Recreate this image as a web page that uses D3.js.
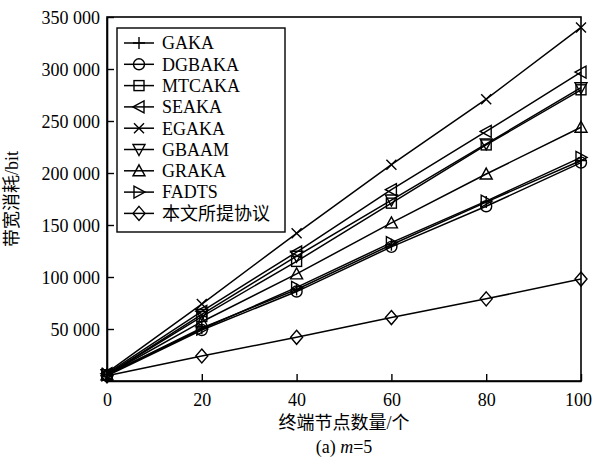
<!DOCTYPE html>
<html>
<head>
<meta charset="utf-8">
<script src="https://cdn.jsdelivr.net/npm/d3@7"></script>
<style>
  body { margin: 0; background: #fff; }
  svg text { font-family: "Liberation Serif", "Noto Sans CJK SC", serif; fill: #000; }
</style>
</head>
<body>
<div class="chart"></div>
<script>
// data
var nodes = [0, 20, 40, 60, 80, 100];
var yTicks = [50000, 100000, 150000, 200000, 250000, 300000, 350000];

var gaka   = [6000, 51000, 88000, 131000, 172000, 212000];
var dgbaka = [5000, 49000, 86000, 129000, 168000, 210000];
var mtcaka = [6000, 62000, 115000, 171000, 227000, 280000];
var seaka  = [7000, 67000, 124000, 184000, 240000, 297000];
var egaka  = [8000, 74000, 142000, 208000, 271000, 340000];
var gbaam  = [6000, 64000, 120000, 174000, 228000, 282000];
var graka  = [6000, 57000, 103000, 152000, 199000, 244000];
var fadts  = [6000, 50000, 90000, 133000, 173000, 215000];
var ours   = [5000, 24000, 42000, 61000, 79000, 98000];

var seriesNames = ["GAKA", "DGBAKA", "MTCAKA", "SEAKA", "EGAKA", "GBAAM", "GRAKA", "FADTS", "本文所提协议"];
var seriesValues = [gaka, dgbaka, mtcaka, seaka, egaka, gbaam, graka, fadts, ours];
var seriesMarkers = ["plus", "circle", "square", "triL", "cross", "triD", "triU", "triR", "diamond"];

var svgWidth = 592;
var svgHeight = 464;
var margin = { top: 17, right: 11, bottom: 83, left: 107 };
var width = svgWidth - margin.left - margin.right;
var height = svgHeight - margin.top - margin.bottom;

var svg = d3.select(".chart")
  .append("svg")
  .attr("width", svgWidth)
  .attr("height", svgHeight);

var chart = svg.append("g")
  .attr("transform", "translate(" + margin.left + "," + margin.top + ")");

var x = d3.scaleLinear().domain([0, 100]).range([0, width]);
var y = d3.scaleLinear().domain([0, 350000]).range([height, 0]);

// frame
chart.append("rect")
  .attr("width", width).attr("height", height)
  .attr("fill", "none").attr("stroke", "#000").attr("stroke-width", 1.6);

// axes, ticks pointing inward
var fmt = function(d) { return d3.format(",")(d).replace(/,/g, " "); };

var bottomAxis = chart.append("g")
  .attr("transform", "translate(0," + height + ")")
  .call(d3.axisBottom(x).tickValues(nodes).tickSizeInner(-7).tickSizeOuter(0).tickPadding(12));

var leftAxis = chart.append("g")
  .call(d3.axisLeft(y).tickValues(yTicks).tickSizeInner(-7).tickSizeOuter(0).tickPadding(7).tickFormat(fmt));

[bottomAxis, leftAxis].forEach(function(a) {
  a.select(".domain").attr("stroke", "#000").attr("stroke-width", 1.6);
  a.selectAll(".tick line").attr("stroke", "#000").attr("stroke-width", 1.4);
  a.selectAll(".tick text").style("font-size", "18px").attr("font-family", null);
});
leftAxis.selectAll(".tick text").attr("dy", "0.35em");
// last x label sits at the page edge, nudge it in a little
bottomAxis.selectAll(".tick text").filter(function(d) { return d == 100; }).attr("dx", -3);

// lines
var line = d3.line()
  .x(function(d, i) { return x(nodes[i]); })
  .y(function(d) { return y(d); });

seriesValues.forEach(function(vals) {
  chart.append("path")
    .datum(vals)
    .attr("d", line)
    .attr("fill", "none")
    .attr("stroke", "#000")
    .attr("stroke-width", 1.5);
});

// marker drawing
function drawMarker(g, type, cx, cy) {
  var s = 6;
  var m = g.append("g").attr("transform", "translate(" + cx + "," + cy + ")")
    .attr("fill", "none").attr("stroke", "#000").attr("stroke-width", 1.4);
  if (type == "plus") {
    m.append("path").attr("d", "M" + -s + ",0H" + s + "M0," + -s + "V" + s);
  } else if (type == "cross") {
    m.append("path").attr("d", "M-5,-5L5,5M-5,5L5,-5");
  } else if (type == "circle") {
    m.append("circle").attr("r", 5.5);
  } else if (type == "square") {
    m.append("rect").attr("x", -5).attr("y", -5).attr("width", 10).attr("height", 10);
  } else if (type == "diamond") {
    m.append("path").attr("d", "M0,-7L6,0L0,7L-6,0Z");
  } else if (type == "triU") {
    m.append("path").attr("d", "M0,-6L6,5L-6,5Z");
  } else if (type == "triD") {
    m.append("path").attr("d", "M0,6L6,-5L-6,-5Z");
  } else if (type == "triL") {
    m.append("path").attr("d", "M-6,0L5,-6L5,6Z");
  } else if (type == "triR") {
    m.append("path").attr("d", "M6,0L-5,-6L-5,6Z");
  }
}

seriesValues.forEach(function(vals, k) {
  vals.forEach(function(v, i) {
    drawMarker(chart, seriesMarkers[k], x(nodes[i]), y(v));
  });
});

// legend
var legend = svg.append("g").attr("transform", "translate(117,28)");
legend.append("rect")
  .attr("width", 168).attr("height", 204)
  .attr("fill", "#fff").attr("stroke", "#000").attr("stroke-width", 1.4);

seriesNames.forEach(function(name, k) {
  var ly = 15 + k * 21.3;
  legend.append("line")
    .attr("x1", 7).attr("x2", 37).attr("y1", ly).attr("y2", ly)
    .attr("stroke", "#000").attr("stroke-width", 1.5);
  drawMarker(legend, seriesMarkers[k], 22, ly);
  legend.append("text")
    .attr("x", 45).attr("y", ly).attr("dy", "0.35em")
    .style("font-size", "18px")
    .text(name);
});

// axis titles
svg.append("text")
  .attr("transform", "translate(18," + (margin.top + height / 2) + ") rotate(-90)")
  .attr("text-anchor", "middle")
  .style("font-size", "18px")
  .text("带宽消耗/bit");

svg.append("text")
  .attr("x", margin.left + width / 2).attr("y", 429)
  .attr("text-anchor", "middle")
  .style("font-size", "18px")
  .text("终端节点数量/个");

var cap = svg.append("text")
  .attr("x", margin.left + width / 2).attr("y", 453)
  .attr("text-anchor", "middle")
  .style("font-size", "18px");
cap.append("tspan").text("(a)  ");
cap.append("tspan").style("font-style", "italic").text("m");
cap.append("tspan").text("=5");
</script>
</body>
</html>
